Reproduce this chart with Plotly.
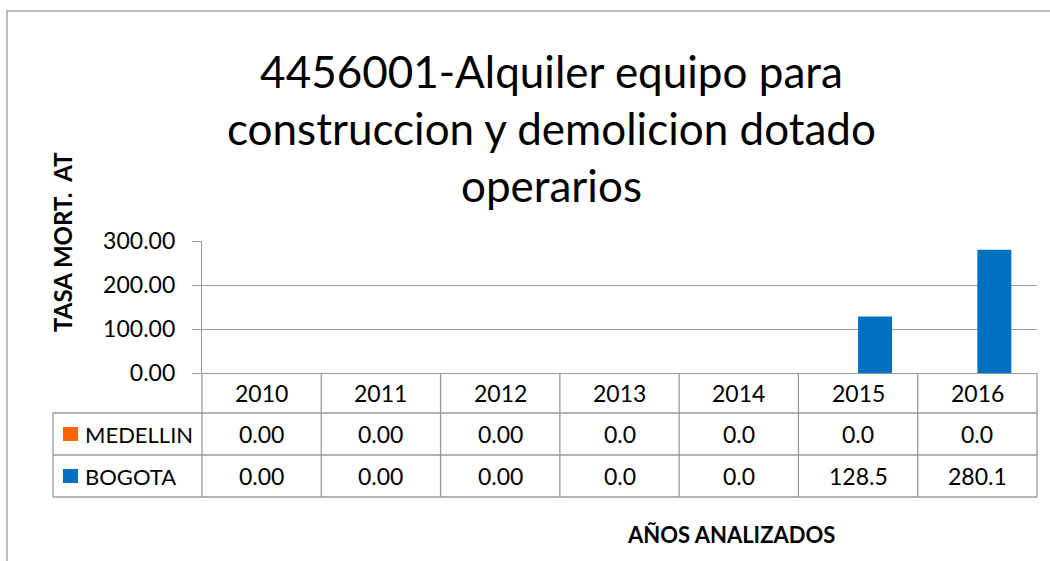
import plotly.graph_objects as go

# --- data ---------------------------------------------------------------
years = ["2010", "2011", "2012", "2013", "2014", "2015", "2016"]
medellin = [0.0, 0.0, 0.0, 0.0, 0.0, 0.0, 0.0]
bogota = [0.0, 0.0, 0.0, 0.0, 0.0, 128.5, 280.1]
decimals = [2, 2, 2, 1, 1, 1, 1]          # number format of each table column
series_names = ["MEDELLIN", "BOGOTA"]
series_colors = ["#FF6600", "#0070C0"]
y_ticks = [0, 100, 200, 300]

title_text = "4456001-Alquiler equipo para<br>construccion y demolicion dotado<br>operarios"
y_title = "TASA MORT.  AT"
x_title = "AÑOS ANALIZADOS"

FONT = "Lato"
GRID = "#9a9a9a"
W, H = 1050, 561
L, R, T, B = 202, 13, 241, 188
plot_w = W - L - R
plot_h = H - T - B


def px_x(px):
    """pixel column -> paper x"""
    return (px - L) / plot_w


def px_y(py):
    """pixel row -> paper y"""
    return (H - B - py) / plot_h


fig = go.Figure()
for name, vals, col in zip(series_names, [medellin, bogota], series_colors):
    fig.add_trace(go.Bar(x=years, y=vals, name=name, marker_color=col,
                         marker_line_width=0, showlegend=False))

# --- data table under the plot -------------------------------------------
row_edges = [H - B, 413, 455, 497]            # header, MEDELLIN, BOGOTA rows
left_px = 53
n = len(years)
shapes = []
line = dict(color=GRID, width=1.3)
# vertical cell borders
for i in range(n + 1):
    shapes.append(dict(type="line", xref="paper", yref="paper",
                       x0=i / n, x1=i / n, y0=px_y(row_edges[0]), y1=px_y(row_edges[-1]),
                       line=line))
# horizontal borders of the series rows (they span the label column too)
for py in row_edges[1:]:
    shapes.append(dict(type="line", xref="paper", yref="paper",
                       x0=px_x(left_px), x1=1, y0=px_y(py), y1=px_y(py), line=line))
shapes.append(dict(type="line", xref="paper", yref="paper",
                   x0=px_x(left_px), x1=px_x(left_px),
                   y0=px_y(row_edges[1]), y1=px_y(row_edges[-1]), line=line))
# chart frame
shapes.append(dict(type="rect", xref="paper", yref="paper",
                   x0=px_x(7), x1=px_x(W + 20), y0=px_y(11), y1=px_y(H + 20),
                   line=dict(color="#a6a6a6", width=1.5)))

annotations = []
tfont = dict(family=FONT, size=23, color="#000000")
nfont = dict(family=FONT, size=22, color="#000000")
hdr_mid = px_y((row_edges[0] + row_edges[1]) / 2)
# table cells sit on the category positions (index i) of the x axis
for i, yr in enumerate(years):
    annotations.append(dict(x=i, y=hdr_mid, xref="x", yref="paper", text=yr,
                            showarrow=False, font=tfont, xanchor="center", yanchor="middle"))
for r, (name, vals, col) in enumerate(zip(series_names, [medellin, bogota], series_colors)):
    top, bot = row_edges[r + 1], row_edges[r + 2]
    mid = px_y((top + bot) / 2)
    for i, (v, d) in enumerate(zip(vals, decimals)):
        annotations.append(dict(x=i, y=mid, xref="x", yref="paper", text=f"{v:.{d}f}",
                                showarrow=False, font=tfont, xanchor="center", yanchor="middle"))
    # legend key + series name
    cy = (top + bot) / 2
    shapes.append(dict(type="rect", xref="paper", yref="paper",
                       x0=px_x(63), x1=px_x(78), y0=px_y(cy - 7), y1=px_y(cy + 7),
                       fillcolor=col, line=dict(width=0)))
    annotations.append(dict(x=px_x(83), y=mid, xref="paper", yref="paper", text=name,
                            showarrow=False, font=nfont, xanchor="left", yanchor="middle"))

# titles
annotations.append(dict(x=px_x(551), y=px_y(128), xref="paper", yref="paper", text=title_text,
                        showarrow=False, font=dict(family=FONT, size=44, color="#000000"),
                        xanchor="center", yanchor="middle"))
annotations.append(dict(x=px_x(62), y=px_y(242), xref="paper", yref="paper", text=f"<b>{y_title}</b>",
                        showarrow=False, textangle=-90,
                        font=dict(family=FONT, size=24, color="#000000", weight=900),
                        xanchor="center", yanchor="middle"))
annotations.append(dict(x=px_x(731), y=px_y(534), xref="paper", yref="paper", text=f"<b>{x_title}</b>",
                        showarrow=False, font=dict(family=FONT, size=22, color="#000000", weight=900),
                        xanchor="center", yanchor="middle"))

fig.update_layout(
    width=W, height=H,
    margin=dict(l=L, r=R, t=T, b=B, autoexpand=False),
    paper_bgcolor="white", plot_bgcolor="white",
    barmode="group", bargap=0.43, bargroupgap=0,
    font=dict(family=FONT, color="#000000"),
    shapes=shapes, annotations=annotations,
    xaxis=dict(type="category", range=[-0.5, n - 0.5], showticklabels=False, showgrid=False,
               showline=True, linecolor=GRID, linewidth=1.3, ticks="", zeroline=False,
               fixedrange=True),
    yaxis=dict(range=[0, 300], tickvals=y_ticks, tickformat=".2f",
               showgrid=True, gridcolor=GRID, gridwidth=1.3,
               showline=True, linecolor=GRID, linewidth=1.3,
               ticks="outside", ticklen=9, tickcolor=GRID, tickwidth=1.3,
               ticklabelstandoff=12, zeroline=False,
               tickfont=dict(family=FONT, size=23, color="#000000")),
)

fig.write_html("out.html")
